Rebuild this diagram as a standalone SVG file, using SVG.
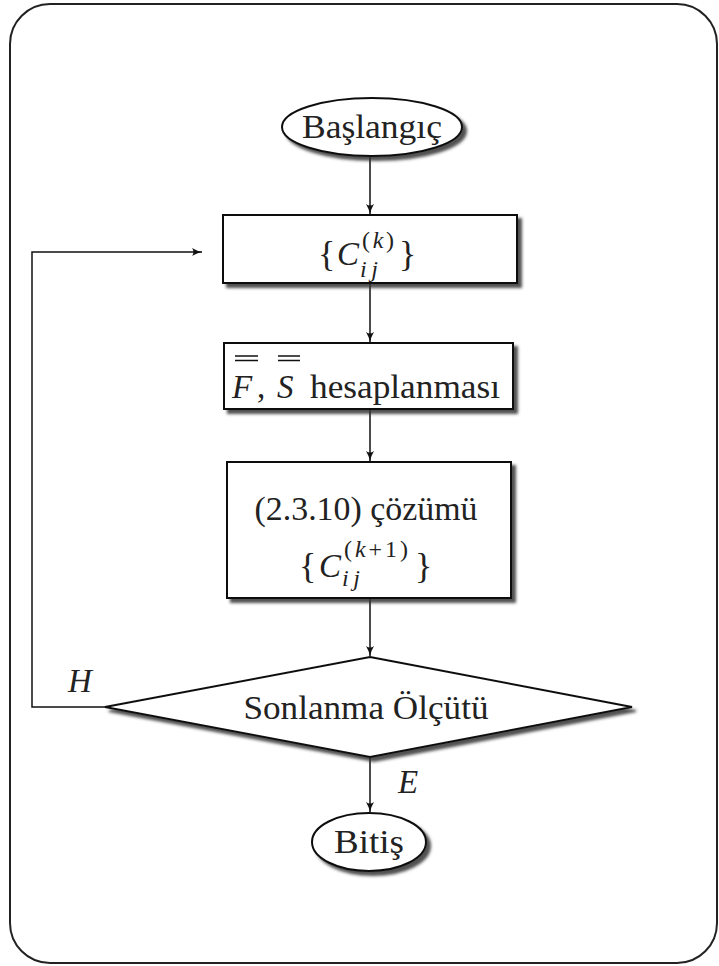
<svg xmlns="http://www.w3.org/2000/svg" width="719" height="966" viewBox="0 0 719 966">
<defs>
<filter id="sh" x="-10%" y="-20%" width="130%" height="150%">
<feDropShadow dx="4" dy="4" stdDeviation="1.8" flood-color="#333" flood-opacity="0.85"/>
</filter>
<marker id="ar" markerWidth="12" markerHeight="10" refX="10" refY="5" orient="auto" markerUnits="userSpaceOnUse">
<path d="M0,1 Q5,4 10,5 Q5,6 0,9 Q3,5 0,1 Z" fill="#111"/>
</marker>
<style>
.shape{fill:#fff;stroke:#111;stroke-width:2;filter:url(#sh)}
.ln{fill:none;stroke:#111;stroke-width:1.5}
.t{font-family:'Liberation Serif','DejaVu Serif','Times New Roman',serif;font-size:33px;fill:#222}
.it{font-style:italic}
.sm{font-size:24px}
.br{font-size:36px}
</style>
</defs>
<rect x="10" y="4" width="707" height="959" rx="40" fill="#fff" stroke="#222" stroke-width="2"/>
<g id="connectors">
<line class="ln" x1="370" y1="157" x2="370" y2="214" marker-end="url(#ar)"/>
<line class="ln" x1="370" y1="283" x2="370" y2="342" marker-end="url(#ar)"/>
<line class="ln" x1="370" y1="409" x2="370" y2="461" marker-end="url(#ar)"/>
<line class="ln" x1="370" y1="598" x2="370" y2="656" marker-end="url(#ar)"/>
<line class="ln" x1="370" y1="757" x2="370" y2="812" marker-end="url(#ar)"/>
<path class="ln" d="M105,707 H32 V252 H202" marker-end="url(#ar)"/>
<text class="t it" x="68" y="692">H</text>
<text class="t it" x="398" y="793">E</text>
</g>
<g id="start">
<ellipse class="shape" cx="372" cy="127" rx="90" ry="29"/>
<text class="t" x="372" y="138" text-anchor="middle" textLength="140" lengthAdjust="spacingAndGlyphs">Başlangıç</text>
</g>
<g id="box1">
<rect class="shape" x="223" y="215" width="294" height="68"/>
<text class="t br" x="318" y="266">{</text>
<text class="t it" x="337" y="265">C</text>
<text class="t sm" x="362" y="248" textLength="32" lengthAdjust="spacing">(<tspan class="it">k</tspan>)</text>
<text class="t sm it" x="360" y="277" textLength="18" lengthAdjust="spacing">ij</text>
<text class="t br" x="399" y="266">}</text>
</g>
<g id="box2">
<rect class="shape" x="224" y="343" width="289" height="66"/>
<text class="t it" x="232" y="398">F</text>
<text class="t" x="257" y="398">,</text>
<text class="t it" x="277" y="398">S</text>
<text class="t" x="310" y="398" textLength="190" lengthAdjust="spacingAndGlyphs">hesaplanması</text>
<path class="ln" d="M235,356 H258 M235,360.5 H258 M278,356 H300 M278,360.5 H300"/>
</g>
<g id="box3">
<rect class="shape" x="227" y="462" width="284" height="136"/>
<text class="t" x="366" y="520" text-anchor="middle" textLength="223" lengthAdjust="spacingAndGlyphs">(2.3.10) çözümü</text>
<text class="t br" x="299" y="578">{</text>
<text class="t it" x="319" y="577">C</text>
<text class="t sm" x="344" y="557" textLength="64" lengthAdjust="spacing">(<tspan class="it">k</tspan>+1)</text>
<text class="t sm it" x="342" y="586" textLength="18" lengthAdjust="spacing">ij</text>
<text class="t br" x="415" y="578">}</text>
</g>
<g id="decision">
<polygon class="shape" points="370,657 632,707 370,757 105,707"/>
<text class="t" x="366" y="719" text-anchor="middle" textLength="245" lengthAdjust="spacingAndGlyphs">Sonlanma Ölçütü</text>
</g>
<g id="end">
<ellipse class="shape" cx="369" cy="842" rx="57" ry="29"/>
<text class="t" x="369" y="853" text-anchor="middle" textLength="70" lengthAdjust="spacingAndGlyphs">Bitiş</text>
</g>
</svg>
